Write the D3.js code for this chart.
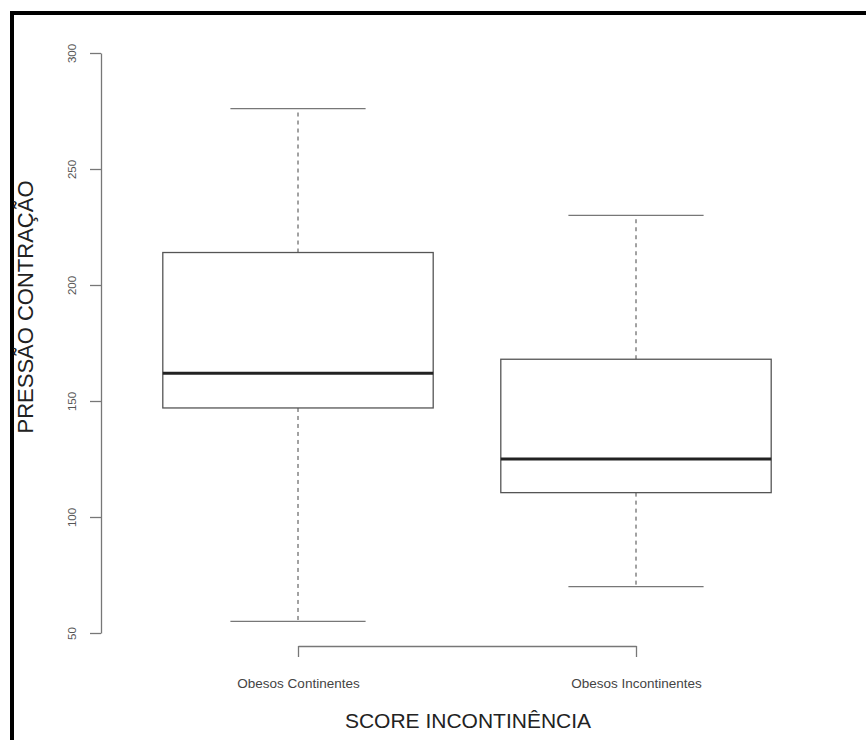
<!DOCTYPE html>
<html>
<head>
<meta charset="utf-8">
<script src="https://cdn.jsdelivr.net/npm/d3@7"></script>
<style>
  body { margin: 0; background: #fff; }
  svg { display: block; font-family: 'Liberation Sans', Arial, sans-serif; }
</style>
</head>
<body>
<div id="chart"></div>
<script>
// box plot stats
var groups = ['Obesos Continentes', 'Obesos Incontinentes']
var whiskerLow = [55, 70]
var q1 = [147, 110.5]
var median = [162, 125]
var q3 = [214, 168]
var whiskerHigh = [276, 230]
var yTicks = [50, 100, 150, 200, 250, 300]

var width = 866
var height = 740

var svg = d3
  .select('#chart')
  .append('svg')
  .attr('width', width)
  .attr('height', height)

// frame round the figure
svg
  .append('rect')
  .attr('x', 12)
  .attr('y', 13)
  .attr('width', width + 20)
  .attr('height', height + 20)
  .attr('fill', 'none')
  .attr('stroke', '#000')
  .attr('stroke-width', 4)

var xPositionScale = d3.scaleLinear().domain([1, 2]).range([298, 636])
var yPositionScale = d3.scaleLinear().domain([50, 300]).range([633, 53])

var boxes = groups.map((g, i) => ({
  name: g,
  pos: i + 1,
  lo: whiskerLow[i],
  q1: q1[i],
  med: median[i],
  q3: q3[i],
  hi: whiskerHigh[i]
}))

var boxHalf = 0.4
var capHalf = 0.2

var g = svg
  .selectAll('.box')
  .data(boxes)
  .enter()
  .append('g')
  .attr('class', 'box')

// dashed whiskers
g.append('line')
  .attr('x1', d => xPositionScale(d.pos))
  .attr('x2', d => xPositionScale(d.pos))
  .attr('y1', d => yPositionScale(d.q3))
  .attr('y2', d => yPositionScale(d.hi))
  .attr('stroke', '#444')
  .attr('stroke-dasharray', '4,4')

g.append('line')
  .attr('x1', d => xPositionScale(d.pos))
  .attr('x2', d => xPositionScale(d.pos))
  .attr('y1', d => yPositionScale(d.q1))
  .attr('y2', d => yPositionScale(d.lo))
  .attr('stroke', '#444')
  .attr('stroke-dasharray', '4,4')

// caps
g.selectAll('.cap')
  .data(d => [
    { pos: d.pos, v: d.hi },
    { pos: d.pos, v: d.lo }
  ])
  .enter()
  .append('line')
  .attr('class', 'cap')
  .attr('x1', d => xPositionScale(d.pos - capHalf))
  .attr('x2', d => xPositionScale(d.pos + capHalf))
  .attr('y1', d => yPositionScale(d.v))
  .attr('y2', d => yPositionScale(d.v))
  .attr('stroke', '#777')
  .attr('stroke-width', 1.3)

// box
g.append('rect')
  .attr('x', d => xPositionScale(d.pos - boxHalf))
  .attr('width', d => xPositionScale(d.pos + boxHalf) - xPositionScale(d.pos - boxHalf))
  .attr('y', d => yPositionScale(d.q3))
  .attr('height', d => yPositionScale(d.q1) - yPositionScale(d.q3))
  .attr('fill', '#fff')
  .attr('stroke', '#555')
  .attr('stroke-width', 1.3)

// median
g.append('line')
  .attr('x1', d => xPositionScale(d.pos - boxHalf))
  .attr('x2', d => xPositionScale(d.pos + boxHalf))
  .attr('y1', d => yPositionScale(d.med))
  .attr('y2', d => yPositionScale(d.med))
  .attr('stroke', '#222')
  .attr('stroke-width', 3)

// axes
var yAxis = d3
  .axisLeft(yPositionScale)
  .tickValues(yTicks)
  .tickSize(11)
  .tickSizeOuter(0)

var yAxisG = svg
  .append('g')
  .attr('class', 'axis y-axis')
  .attr('transform', 'translate(101,0)')
  .call(yAxis)

yAxisG.selectAll('path, line').attr('stroke', '#777').attr('stroke-width', 1.3)
yAxisG
  .selectAll('text')
  .attr('x', null)
  .attr('dy', null)
  .attr('text-anchor', 'middle')
  .attr('transform', 'translate(-25,0) rotate(-90)')
  .attr('font-size', 11.5)
  .attr('fill', '#555')

var xAxis = d3
  .axisBottom(xPositionScale)
  .tickValues([1, 2])
  .tickFormat(d => groups[d - 1])
  .tickSize(11)
  .tickSizeOuter(0)

var xAxisG = svg
  .append('g')
  .attr('class', 'axis x-axis')
  .attr('transform', 'translate(0,646)')
  .call(xAxis)

xAxisG.selectAll('path, line').attr('stroke', '#777').attr('stroke-width', 1.3)
xAxisG
  .selectAll('text')
  .attr('y', 42)
  .attr('dy', null)
  .attr('font-size', 13.5)
  .attr('fill', '#444')

// axis titles
svg
  .append('text')
  .attr('x', 468)
  .attr('y', 728)
  .attr('text-anchor', 'middle')
  .attr('font-size', 21)
  .attr('fill', '#222')
  .text('SCORE INCONTINÊNCIA')

svg
  .append('text')
  .attr('transform', 'translate(33,307) rotate(-90)')
  .attr('text-anchor', 'middle')
  .attr('font-size', 22)
  .attr('fill', '#222')
  .text('PRESSÃO CONTRAÇÃO')
</script>
</body>
</html>
